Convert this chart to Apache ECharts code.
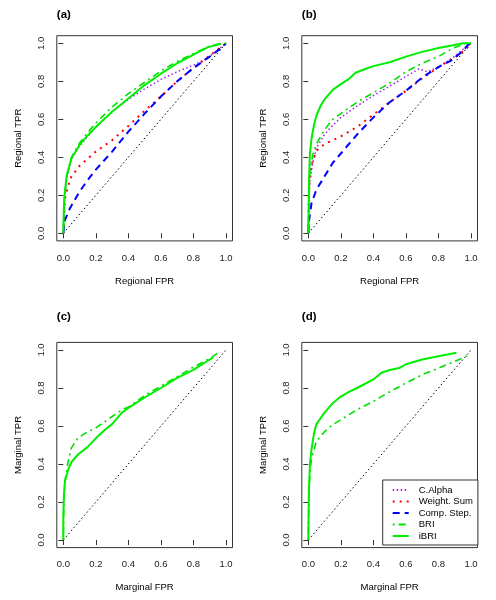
<!DOCTYPE html>
<html>
<head>
<meta charset="utf-8">
<script src="https://cdn.jsdelivr.net/npm/echarts@6/dist/echarts.min.js"></script>
<style>html,body{margin:0;padding:0;background:#fff}#c{width:496px;height:600px}</style>
</head>
<body>
<div id="c"></div>
<script>
// ---- data (FPR, TPR) ----
var tickValues = [0, 0.2, 0.4, 0.6, 0.8, 1.0];
var panelTitles = ['(a)', '(b)', '(c)', '(d)'];
var xNames = ['Regional FPR', 'Regional FPR', 'Marginal FPR', 'Marginal FPR'];
var yNames = ['Regional TPR', 'Regional TPR', 'Marginal TPR', 'Marginal TPR'];
var legendNames = ['C.Alpha', 'Weight. Sum', 'Comp. Step.', 'BRI', 'iBRI'];
var diag = [[0, 0], [1, 1]];

// panel (a)
var a_CAlpha = [[0,0],[0.005,0.15],[0.02,0.29],[0.05,0.39],[0.1,0.46],[0.2,0.56],[0.3,0.64],[0.4,0.705],[0.5,0.76],[0.6,0.81],[0.7,0.85],[0.8,0.885],[0.87,0.915],[0.93,0.95],[0.97,0.98],[1,1]];
var a_WSum = [[0,0],[0.01,0.18],[0.03,0.25],[0.05,0.30],[0.1,0.355],[0.2,0.43],[0.3,0.49],[0.4,0.565],[0.5,0.645],[0.6,0.72],[0.7,0.80],[0.8,0.87],[0.9,0.935],[0.97,0.98],[1,1]];
var a_CStep = [[0,0],[0.01,0.07],[0.04,0.13],[0.07,0.175],[0.1,0.22],[0.15,0.28],[0.2,0.335],[0.3,0.43],[0.4,0.535],[0.5,0.63],[0.6,0.72],[0.7,0.80],[0.8,0.87],[0.9,0.93],[0.97,0.975],[1,1]];
var a_BRI = [[0,0],[0.005,0.15],[0.02,0.30],[0.05,0.40],[0.1,0.475],[0.15,0.53],[0.2,0.58],[0.3,0.665],[0.4,0.735],[0.5,0.795],[0.6,0.855],[0.7,0.905],[0.8,0.945],[0.9,0.985],[0.97,1.0],[1,1]];
var a_iBRI = [[0,0],[0.003,0.12],[0.006,0.19],[0.02,0.30],[0.05,0.395],[0.1,0.465],[0.15,0.515],[0.2,0.56],[0.3,0.64],[0.4,0.71],[0.5,0.78],[0.6,0.84],[0.7,0.895],[0.8,0.94],[0.89,0.98],[0.97,0.997]];

// panel (b)
var b_CAlpha = [[0,0],[0.005,0.2],[0.01,0.28],[0.03,0.38],[0.05,0.45],[0.1,0.52],[0.13,0.55],[0.2,0.61],[0.3,0.67],[0.4,0.725],[0.5,0.775],[0.6,0.825],[0.68,0.865],[0.73,0.85],[0.8,0.875],[0.89,0.925],[0.96,0.975],[1,1]];
var b_WSum = [[0,0],[0.005,0.25],[0.02,0.36],[0.05,0.435],[0.1,0.47],[0.2,0.51],[0.3,0.56],[0.4,0.625],[0.5,0.69],[0.6,0.75],[0.7,0.815],[0.8,0.875],[0.9,0.925],[0.97,0.97],[1,1]];
var b_CStep = [[0,0],[0.005,0.07],[0.02,0.16],[0.05,0.23],[0.1,0.30],[0.15,0.37],[0.2,0.42],[0.3,0.52],[0.4,0.61],[0.5,0.69],[0.6,0.75],[0.7,0.82],[0.8,0.875],[0.88,0.91],[0.95,0.96],[0.98,0.99],[1,1]];
var b_BRI = [[0,0],[0.005,0.2],[0.01,0.33],[0.03,0.42],[0.05,0.47],[0.1,0.545],[0.15,0.60],[0.2,0.63],[0.3,0.69],[0.4,0.74],[0.5,0.79],[0.6,0.85],[0.7,0.895],[0.8,0.93],[0.89,0.975],[0.97,1.0],[1,1]];
var b_iBRI = [[0,0],[0.003,0.2],[0.005,0.3],[0.01,0.42],[0.02,0.50],[0.035,0.57],[0.05,0.62],[0.075,0.67],[0.1,0.705],[0.15,0.755],[0.2,0.785],[0.245,0.81],[0.29,0.845],[0.35,0.865],[0.4,0.88],[0.5,0.90],[0.6,0.93],[0.7,0.955],[0.8,0.975],[0.89,0.99],[0.95,1.0],[1,1]];

// panel (c)
var c_BRI = [[0,0],[0.003,0.2],[0.01,0.31],[0.02,0.36],[0.03,0.414],[0.05,0.485],[0.09,0.537],[0.15,0.57],[0.2,0.59],[0.3,0.65],[0.36,0.685],[0.4,0.70],[0.5,0.76],[0.6,0.81],[0.7,0.86],[0.8,0.91],[0.9,0.955],[0.96,0.99]];
var c_iBRI = [[0,0],[0,0.115],[0.004,0.24],[0.01,0.31],[0.03,0.37],[0.05,0.41],[0.09,0.45],[0.15,0.49],[0.2,0.535],[0.256,0.58],[0.3,0.61],[0.36,0.67],[0.4,0.695],[0.5,0.75],[0.6,0.80],[0.7,0.853],[0.8,0.895],[0.9,0.95],[0.92,0.96]];

// panel (d)
var d_BRI = [[0,0],[0.004,0.24],[0.01,0.36],[0.02,0.43],[0.05,0.52],[0.1,0.57],[0.15,0.607],[0.2,0.633],[0.3,0.686],[0.4,0.73],[0.5,0.78],[0.6,0.826],[0.7,0.87],[0.8,0.905],[0.9,0.94],[0.98,0.97]];
var d_iBRI = [[0,0],[0.002,0.15],[0.004,0.27],[0.01,0.40],[0.02,0.48],[0.035,0.56],[0.05,0.61],[0.1,0.67],[0.15,0.72],[0.2,0.755],[0.25,0.78],[0.3,0.80],[0.4,0.845],[0.45,0.88],[0.5,0.895],[0.56,0.905],[0.6,0.925],[0.7,0.95],[0.8,0.967],[0.91,0.985]];

// ---- styles ----
var FONT = '"Liberation Sans", Arial, Helvetica, sans-serif';
var styles = {
  'C.Alpha':     {color: '#A020F0', width: 1.5, type: [1.5, 2.5]},
  'Weight. Sum': {color: '#FF0000', width: 2, type: [2, 5]},
  'Comp. Step.': {color: '#0000FF', width: 2, type: [7, 5]},
  'BRI':         {color: '#00E000', width: 1.6, type: [2, 4, 7, 4]},
  'iBRI':        {color: '#00EE00', width: 2, type: 'solid'}
};
var grids = [
  {left: 56.8, top: 35.7, width: 175.7, height: 205.2},
  {left: 301.8, top: 35.7, width: 175.7, height: 205.2},
  {left: 56.8, top: 342.4, width: 175.7, height: 205.2},
  {left: 301.8, top: 342.4, width: 175.7, height: 205.2}
];
var titleTops = [9, 9, 311, 311];
var panelSeries = [
  [['C.Alpha', a_CAlpha], ['Weight. Sum', a_WSum], ['Comp. Step.', a_CStep], ['BRI', a_BRI], ['iBRI', a_iBRI]],
  [['C.Alpha', b_CAlpha], ['Weight. Sum', b_WSum], ['Comp. Step.', b_CStep], ['BRI', b_BRI], ['iBRI', b_iBRI]],
  [['BRI', c_BRI], ['iBRI', c_iBRI]],
  [['BRI', d_BRI], ['iBRI', d_iBRI]]
];

function fmt(v) { return v.toFixed(1); }

var option = {
  animation: false,
  backgroundColor: '#fff',
  textStyle: {fontFamily: FONT},
  title: [],
  grid: [],
  xAxis: [],
  yAxis: [],
  series: [],
  legend: {
    data: legendNames,
    orient: 'vertical',
    left: 382.7,
    top: 480,
    backgroundColor: '#fff',
    borderColor: '#333',
    borderWidth: 1,
    borderRadius: 0,
    padding: [5, 5, 4, 9],
    itemGap: 1.5,
    itemWidth: 16,
    itemHeight: 9.5,
    selectedMode: false,
    itemStyle: {opacity: 0},
    textStyle: {fontSize: 9.5, lineHeight: 9.5, color: '#000', fontFamily: FONT, padding: [0, 0, 0, 5]}
  }
};

for (var i = 0; i < 4; i++) {
  var g = grids[i];
  option.grid.push({left: g.left, top: g.top, width: g.width, height: g.height,
    show: true, borderColor: '#333', borderWidth: 1, backgroundColor: 'transparent', containLabel: false});
  option.title.push({text: panelTitles[i], left: g.left, top: titleTops[i], padding: 0,
    textStyle: {fontSize: 11.5, fontWeight: 'bold', color: '#000', fontFamily: FONT}});
  option.xAxis.push({
    type: 'value', gridIndex: i, min: -0.04, max: 1.04,
    name: xNames[i], nameLocation: 'middle', nameGap: 35,
    nameTextStyle: {fontSize: 9.5, color: '#000', fontFamily: FONT},
    axisLine: {show: false},
    axisTick: {show: true, length: 5, customValues: tickValues, lineStyle: {color: '#333'}},
    axisLabel: {customValues: tickValues, formatter: fmt, fontSize: 9.5, color: '#222', margin: 12, fontFamily: FONT},
    splitLine: {show: false}
  });
  option.yAxis.push({
    type: 'value', gridIndex: i, min: -0.04, max: 1.04,
    name: yNames[i], nameLocation: 'middle', nameGap: 33, nameRotate: 90,
    nameTextStyle: {fontSize: 9.5, color: '#000', fontFamily: FONT},
    axisLine: {show: false},
    axisTick: {show: true, length: 5, customValues: tickValues, lineStyle: {color: '#333'}},
    axisLabel: {customValues: tickValues, formatter: fmt, rotate: 90, fontSize: 9.5, color: '#222', margin: 10, fontFamily: FONT},
    splitLine: {show: false}
  });
  option.series.push({
    type: 'line', xAxisIndex: i, yAxisIndex: i, data: diag, symbol: 'none', silent: true,
    lineStyle: {color: '#000', width: 1, type: [1.5, 2.5]}, z: 1
  });
  panelSeries[i].forEach(function (p) {
    var s = styles[p[0]];
    option.series.push({
      name: p[0], type: 'line', xAxisIndex: i, yAxisIndex: i, data: p[1],
      symbol: 'none', silent: true, smooth: false,
      itemStyle: {color: s.color},
      lineStyle: {color: s.color, width: s.width, type: s.type}, z: 2
    });
  });
}

var chart = echarts.init(document.getElementById('c'), null, {renderer: 'canvas'});
chart.setOption(option);
</script>
</body>
</html>
